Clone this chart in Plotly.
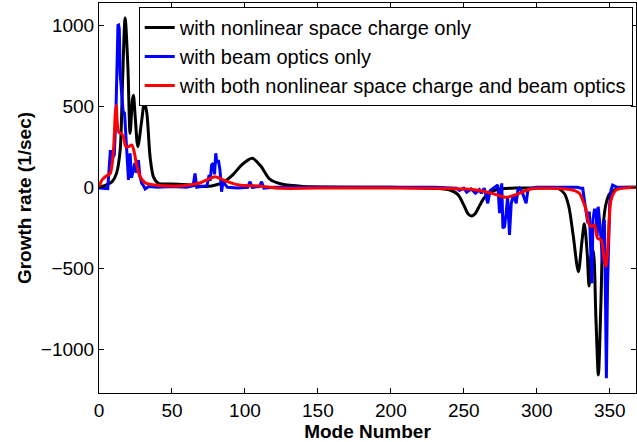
import plotly.graph_objects as go

# ---- data ----
black_x = [0, 5, 9, 12, 14.5, 16.1, 17.9, 19.8, 21.3, 22.9, 23.6, 24.8, 26.6, 29.3, 31.1, 32.8, 35, 37.3, 40.7,
           50, 62, 74, 85, 92, 98, 105, 111, 117, 125, 140, 200, 233, 240, 246, 250, 253, 255.5, 258, 261, 264,
           268, 273, 285, 300, 315, 319, 322, 325, 328.5, 331, 332.6, 334.5, 335.8, 337.2, 338.6, 340.5, 342.2,
           344, 345.5, 347.5, 350, 356, 368]
black_y = [0, 15, 35, 86, 230, 642, 1045, 744, 333, 539, 569, 436, 251, 415, 528, 457, 189, 65, 25,
           20, 15, 5, 30, 80, 140, 179, 130, 50, 20, 5, 0, -8, -15, -45, -110, -165, -177, -160, -110, -65,
           -35, -12, -5, -5, -8, -40, -120, -300, -521, -330, -225, -400, -609, -420, -390, -800, -1159,
           -700, -240, -100, -40, -5, 0]

blue_x = [0, 3, 6, 7.2, 7.8, 8.5, 9.5, 10.5, 11.5, 12.3, 13.0, 13.4, 13.9, 14.5, 15.6, 16.5, 17.5, 18.4, 19.1,
          20.2, 21.3, 22.3, 23.6, 24.6, 25.6, 27, 28, 29.3, 30.5, 31.6, 34, 40, 50, 60, 64.5, 65.8, 67, 70, 74,
          75.5, 76.2, 77.2, 78.3, 79.2, 80, 80.8, 81.8, 82.9, 84, 85, 88, 95, 102, 103.4, 105, 110, 111.4, 113,
          120, 140, 180, 230, 245, 247, 250, 252, 255, 258, 260.7, 262, 264, 266.4, 268, 271, 273.3, 274.5,
          276, 276.8, 277.9, 279, 280, 281.3, 282.5, 284, 285.9, 287, 288.2, 290, 292.7, 294, 296, 300, 315,
          328, 330, 331.5, 332.6, 334, 335, 336, 337, 337.8, 338.5, 339.5, 340.6, 341.4, 342.1, 343.5, 345.2,
          346.3, 347.1, 347.7, 348.5, 350, 350.9, 352, 355, 368]
blue_y = [-5, -5, -8, 150, 230, 170, 190, 200, 420, 800, 1000, 1002, 980, 700, 540, 470, 457, 330, 168,
          45, 210, 60, 107, 150, 90, 168, 70, 25, 10, -10, 5, 0, 5, 0, 10, 86, 0, 5, 10,
          76, 40, 138, 148, 80, 210, 150, 168, 107, -27, 35, 0, -5, 0, 35, 0, 5, 35, -5,
          0, 0, 0, 0, -5, -20, -5, -30, -10, -37, -15, -37, -5, -99, -20, 0, 14, -160,
          25, -253, -243, -160, -60, -294, -99, -48, -99, -20, -6, -30, -99, -10, -6, 0, 0,
          0, -6, -6, -78, -160, -222, -150, -350, -593, -200, -140, -140, -300, -120, -250, -470,
          -200, -700, -1179, -600, -100, -17, 14, 0, 0]

red_x = [0, 2, 5, 7.7, 9.9, 11.1, 11.8, 12.5, 13.6, 15.2, 16.8, 18.4, 20.2, 22.5, 24.3, 26, 28.2, 31.6, 38.4,
         50, 62, 70, 75, 79.5, 84, 88, 96, 110, 124, 150, 200, 240, 255, 265, 272, 279, 284, 288, 294, 300,
         310, 320, 326, 329.2, 331.5, 333.8, 335.5, 337.2, 339.5, 341.7, 344.1, 346.3, 347.5, 348.5, 349.7,
         350.9, 354.3, 360, 368]
red_y = [0, 45, 70, 86, 230, 446, 508, 400, 340, 333, 312, 251, 251, 261, 210, 127, 65, 28, 14,
         8, 14, 30, 50, 65, 50, 35, 14, 8, -6, -5, -5, -8, -12, -27, -45, -62, -50, -37, -15, -6,
         -6, -10, -20, -37, -80, -140, -220, -243, -233, -315, -325, -449, -490, -400, -200,
         -78, -17, -5, 0]

names = ["with nonlinear space charge only", "with beam optics only",
         "with both nonlinear space charge and beam optics"]
x_ticks = [0, 50, 100, 150, 200, 250, 300, 350]
y_ticks = [-1000, -500, 0, 500, 1000]

FONT = "Liberation Sans, Arial, sans-serif"

fig = go.Figure()
fig.add_trace(go.Scatter(x=black_x, y=black_y, mode="lines", name=names[0],
                         line=dict(color="#000000", width=3, shape="spline", smoothing=0.8)))
fig.add_trace(go.Scatter(x=blue_x, y=blue_y, mode="lines", name=names[1],
                         line=dict(color="#0000ff", width=3)))
fig.add_trace(go.Scatter(x=red_x, y=red_y, mode="lines", name=names[2],
                         line=dict(color="#ff0000", width=3, shape="spline", smoothing=0.8)))

axis_common = dict(showline=True, linecolor="black", linewidth=1, mirror="ticks",
                   ticks="inside", ticklen=5, tickcolor="black", tickwidth=1,
                   showgrid=False, zeroline=False,
                   tickfont=dict(family=FONT, size=19, color="black"))

fig.update_xaxes(range=[0, 368], tickvals=x_ticks, automargin=False,
                 title=dict(text="<b>Mode Number</b>", font=dict(family=FONT, size=19, color="black"),
                            standoff=0),
                 **axis_common)
fig.update_yaxes(range=[-1270, 1138], tickvals=y_ticks, automargin=False,
                 title=dict(text="<b>Growth rate (1/sec)</b>", font=dict(family=FONT, size=19, color="black"),
                            standoff=4),
                 **axis_common)

fig.update_layout(
    width=637, height=442,
    margin=dict(l=99, r=1, t=3, b=49),
    paper_bgcolor="white", plot_bgcolor="white",
    font=dict(family=FONT, color="black"),
    legend=dict(x=0.074, y=0.99, xanchor="left", yanchor="top",
                bgcolor="white", bordercolor="black", borderwidth=1,
                font=dict(family=FONT, size=20, color="black"),
                tracegroupgap=0, itemwidth=30),
    showlegend=True,
)

fig.write_html("out.html")
